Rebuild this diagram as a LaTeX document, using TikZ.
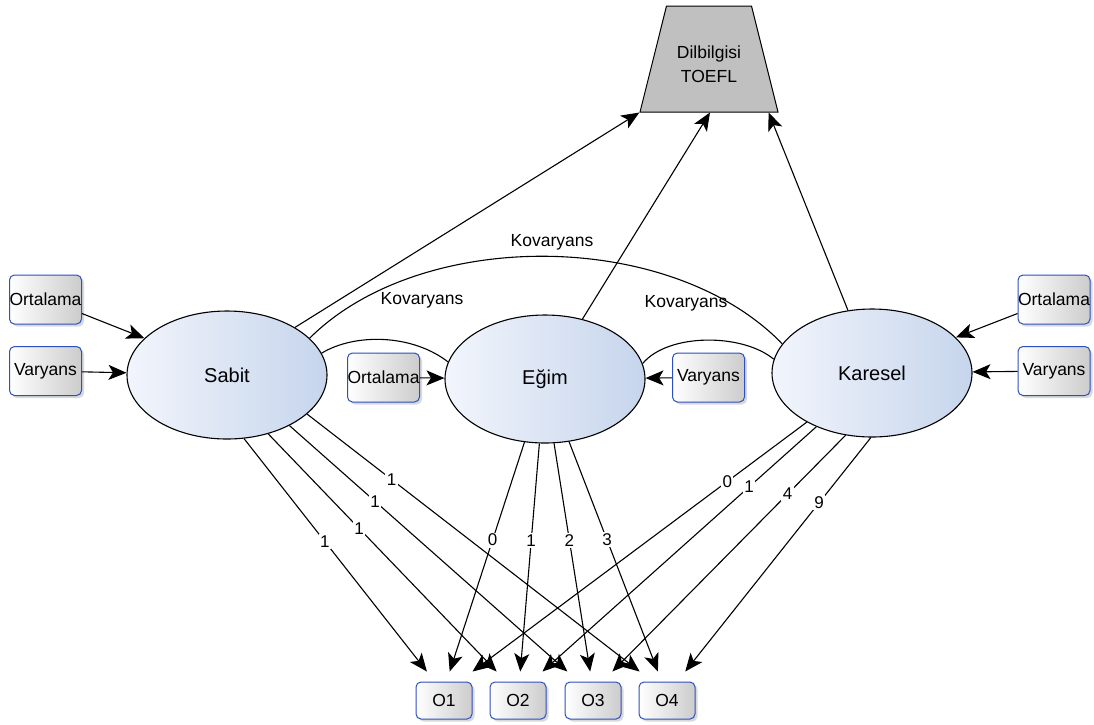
\documentclass[tikz,border=0pt]{standalone}
\usepackage{fontspec}
\setmainfont{Liberation Sans}
\usetikzlibrary{shapes.geometric, arrows.meta, shadows, calc}
\definecolor{ellL}{RGB}{242,245,252}
\definecolor{ellR}{RGB}{198,213,236}
\definecolor{boxB}{RGB}{45,80,190}
\definecolor{boxG}{RGB}{204,204,204}
\definecolor{trapG}{RGB}{192,192,192}
\begin{document}
\begin{tikzpicture}[x=1pt,y=-1pt,
  latent/.style={ellipse, draw=black, line width=1.1pt, left color=ellL, right color=ellR, minimum width=200pt, minimum height=128pt, inner sep=0pt, font=\fontsize{20}{24}\selectfont},
  obsbox/.style={draw=boxB, line width=1pt, rounded corners=5pt, left color=white, right color=boxG, minimum width=72pt, minimum height=49pt, inner sep=0pt, font=\fontsize{17.5}{20}\selectfont, drop shadow={shadow xshift=2.5pt, shadow yshift=-2.5pt, opacity=0.3}},
  outbox/.style={obsbox, minimum width=56pt, minimum height=37pt},
  arr/.style={-{Stealth[length=18pt,width=15pt,inset=4.5pt]}, line width=1.1pt},
  ln/.style={line width=1.1pt},
  lab/.style={font=\fontsize{17}{20}\selectfont, fill=white, inner sep=1.5pt},
  cov/.style={font=\fontsize{17.5}{20}\selectfont}
]
\useasboundingbox (0,0) rectangle (1094,724);

% latent variables
\node[latent] (sabit) at (227,375) {Sabit};
\node[latent] (egim) at (545,379) {Eğim};
\node[latent] (karesel) at (872,373) {Karesel};

% outcome
\node[draw, fill=trapG, trapezium, trapezium angle=72.7, trapezium stretches=true, minimum width=138pt, minimum height=106pt, line width=1pt] (toefl) at (709,59) {};
\node[align=center, font=\fontsize{17.5}{24}\selectfont] (tofltxt) at (709,64) {Dilbilgisi\\TOEFL};

% parameter boxes
\node[obsbox] (lo) at (45.5,299.5) {Ortalama};
\node[obsbox] (lv) at (45.5,371) {Varyans};
\node[obsbox] (ro) at (1054,299.5) {Ortalama};
\node[obsbox] (rv) at (1054,371) {Varyans};
\node[obsbox] (mo) at (383.5,377.5) {Ortalama};
\node[obsbox] (mv) at (708.5,377.5) {Varyans};

% observed
\node[outbox] (o1) at (444,700.5) {O1};
\node[outbox] (o2) at (518,700.5) {O2};
\node[outbox] (o3) at (593,700.5) {O3};
\node[outbox] (o4) at (667,700.5) {O4};

% parameter arrows
\draw[arr] (lo.-21) -- (sabit.156);
\draw[arr] (lv) -- (sabit);
\draw[arr] (ro.201) -- (karesel.23);
\draw[arr] (rv) -- (karesel);
\draw[arr] (mo) -- (egim);
\draw[arr] (mv) -- (egim);

% to TOEFL
\draw[arr] (sabit.35.5) -- (toefl.bottom left corner);
\draw[arr] (egim.58) -- ($(toefl.bottom left corner)!0.507!(toefl.bottom right corner)$);
\draw[arr] (karesel.111) -- ($(toefl.bottom left corner)!0.928!(toefl.bottom right corner)$);

% covariances
\draw[ln] (sabit.24) .. controls (420,228) and (670,228) .. (karesel.162);
\draw[ln] (sabit.13.5) .. controls (355,333) and (412,334) .. (egim.170);
\draw[ln] (egim.9.3) .. controls (668,333) and (742,333) .. (karesel.172.5);
\node[cov] (kv1) at (552,242) {Kovaryans};
\node[cov] (kv2) at (422,300) {Kovaryans};
\node[cov] (kv3) at (686,303) {Kovaryans};

% Sabit loadings
\draw[arr] (sabit.-75.3) -- node[lab,pos=0.442]{1} ($(o1.north west)!0.2!(o1.north east)+(0,-10)$);
\draw[arr] (sabit.-55.8) -- node[lab,pos=0.398]{1} ($(o2.north west)!0.125!(o2.north east)+(0,-10)$);
\draw[arr] (sabit.-39.5) -- node[lab,pos=0.308]{1} ($(o3.north west)!0.05!(o3.north east)+(0,-10)$);
\draw[arr] (sabit.-26) -- node[lab,pos=0.254]{1} ($(o4.north west)!0.02!(o4.north east)+(0,-10)$);

% Egim loadings
\draw[arr] (egim.-108.7) -- node[lab,pos=0.427]{0} ($(o1.north west)!0.6!(o1.north east)+(0,-10)$);
\draw[arr] (egim.-95.8) -- node[lab,pos=0.427]{1} ($(o2.north west)!0.54!(o2.north east)+(0,-10)$);
\draw[arr] (egim.-82.3) -- node[lab,pos=0.427]{2} ($(o3.north west)!0.45!(o3.north east)+(0,-10)$);
\draw[arr] (egim.-69.6) -- node[lab,pos=0.427]{3} ($(o4.north west)!0.34!(o4.north east)+(0,-10)$);

% Karesel loadings
\draw[arr] (karesel.-143.7) -- node[lab,pos=0.238]{0} ($(o1.north west)!1.0!(o1.north east)+(0,-10)$);
\draw[arr] (karesel.-136) -- node[lab,pos=0.246]{1} ($(o2.north west)!0.93!(o2.north east)+(0,-10)$);
\draw[arr] (karesel.-113.3) -- node[lab,pos=0.249]{4} ($(o3.north west)!0.84!(o3.north east)+(0,-10)$);
\draw[arr] (karesel.-91) -- node[lab,pos=0.279]{9} ($(o4.north west)!0.82!(o4.north east)+(0,-10)$);
\end{tikzpicture}
\end{document}
